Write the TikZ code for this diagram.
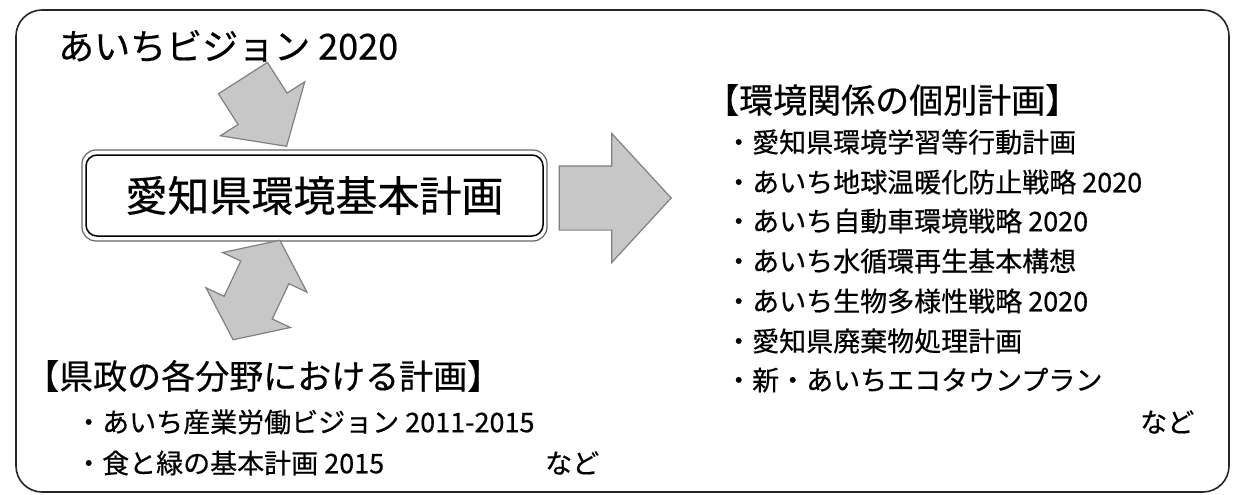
\documentclass[tikz,border=0pt]{standalone}
\usepackage{fontspec}
\setmainfont{Noto Sans CJK JP}[FakeBold=0.5]
\usetikzlibrary{shapes.arrows}

\begin{document}
\begin{tikzpicture}[x=1pt,y=-1pt,
	frame_line/.style={draw=black!85,line width=1.6pt,rounded corners=26pt},
	fat_arrow/.style={draw=black!50,fill=black!22,line width=1.2pt,inner xsep=0pt},
	plan_outer/.style={draw=black!60,line width=1.2pt,rounded corners=14pt,minimum width=465pt,minimum height=91pt},
	plan_box/.style={draw,line width=1.5pt,rounded corners=11pt,minimum width=457pt,minimum height=81pt,font=\fontsize{42}{42}\selectfont},
	vision_text/.style={anchor=west,inner sep=0pt,font=\fontsize{36}{36}\selectfont},
	head_text/.style={anchor=west,inner sep=0pt,font=\fontsize{34}{34}\selectfont},
	item_text/.style={anchor=west,inner sep=0pt,font=\fontsize{27}{27}\selectfont}]
		
		\useasboundingbox (0,0) rectangle (1234,495);
		\draw[frame_line] (16,10) rectangle (1229,492);
		
		\node[vision_text] (vision) at (58,46) {あいちビジョン 2020};
		
		\node[plan_outer] (plan_frame) at (314.5,195.5) {};
		\node[plan_box] (plan) at (314.5,195.5) {愛知県環境基本計画};
		
		\node[fat_arrow,single arrow,minimum height=81pt,inner ysep=28.5pt,single arrow head extend=21pt,single arrow tip angle=96.7,rotate=-57.4,anchor=tip] (vision_arrow) at (287,147) {};
		\node[fat_arrow,single arrow,minimum height=112pt,inner ysep=31.5pt,single arrow head extend=32.5pt,single arrow tip angle=94.7,anchor=tip] (env_arrow) at (672,198) {};
		\node[fat_arrow,double arrow,minimum height=110pt,inner ysep=26pt,double arrow head extend=20pt,double arrow tip angle=105.4,rotate=64.8] (pref_arrow) at (256.5,290) {};
		
		\node[head_text] (env_head) at (705,100) {【環境関係の個別計画】};
		\node[item_text] (env1) at (725,142) {・愛知県環境学習等行動計画};
		\node[item_text] (env2) at (725,182) {・あいち地球温暖化防止戦略 2020};
		\node[item_text] (env3) at (725,221) {・あいち自動車環境戦略 2020};
		\node[item_text] (env4) at (725,261) {・あいち水循環再生基本構想};
		\node[item_text] (env5) at (725,301) {・あいち生物多様性戦略 2020};
		\node[item_text] (env6) at (725,341) {・愛知県廃棄物処理計画};
		\node[item_text] (env7) at (725,380) {・新・あいちエコタウンプラン};
		\node[item_text] (env_etc) at (1140,422) {など};
		
		\node[head_text] (pref_head) at (25,376) {【県政の各分野における計画】};
		\node[item_text] (pref1) at (75,422) {・あいち産業労働ビジョン 2011-2015};
		\node[item_text] (pref2) at (75,463) {・食と緑の基本計画 2015};
		\node[item_text] (pref_etc) at (545,463) {など};
		\end{tikzpicture}
\end{document}
